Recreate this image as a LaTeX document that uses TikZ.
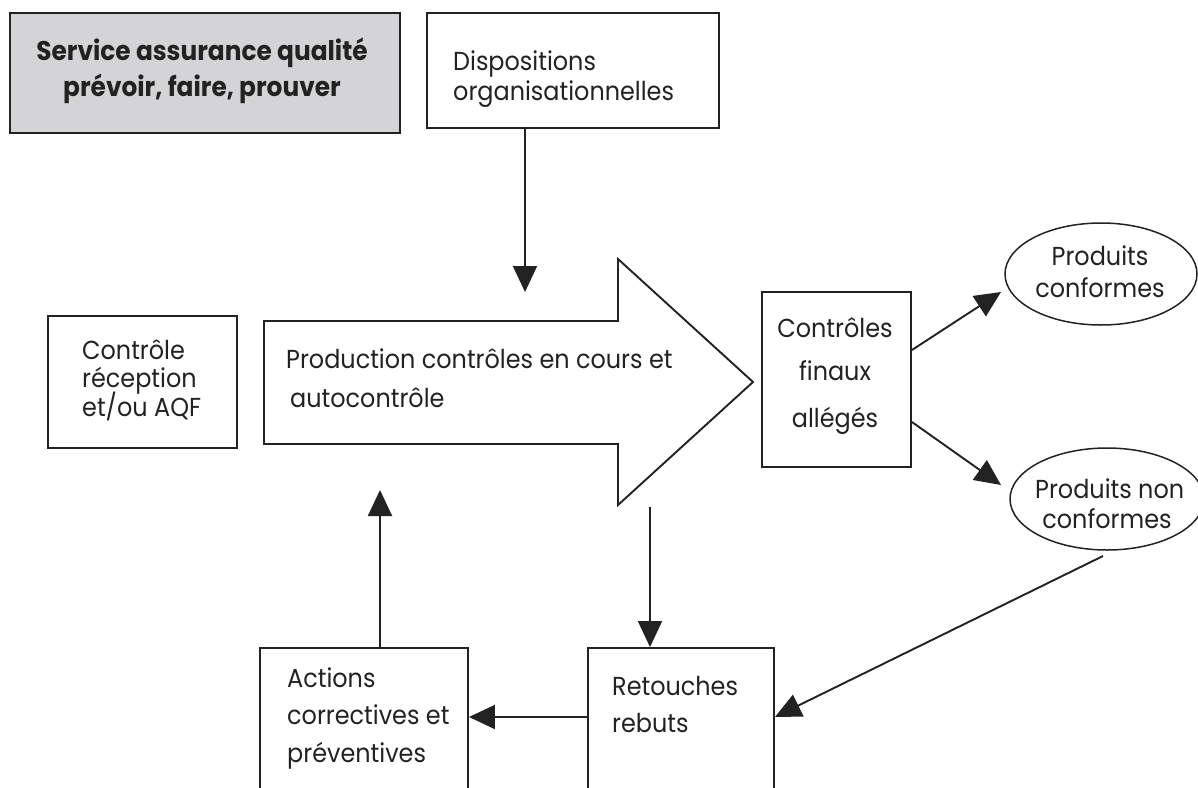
\documentclass[tikz,border=0pt]{standalone}
\usepackage{fontspec}
\setmainfont{Poppins}[FakeStretch=0.92]
\usetikzlibrary{arrows.meta,shapes.geometric}
\definecolor{ink}{HTML}{222222}
\definecolor{boxgray}{HTML}{D4D4D6}
\begin{document}
\begin{tikzpicture}[x=1pt,y=-1pt,
  box/.style={draw=ink, line width=1.9pt, rectangle, inner sep=0pt},
  oval/.style={draw=ink, line width=1.5pt, ellipse, inner sep=0pt},
  txt/.style={text=ink, inner sep=0pt, font=\fontsize{26}{30}\selectfont},
  ttl/.style={txt, font=\fontsize{27}{30}\selectfont\bfseries},
  arr/.style={draw=ink, line width=1.9pt, -{Triangle[length=26pt,width=24pt]}}]
\useasboundingbox (0,0) rectangle (1198,787);
\clip (0,0) rectangle (1198,787);

% boxes
\node[box, fill=boxgray, minimum width=390pt, minimum height=120pt] (sq) at (205,73) {};
\node[box, minimum width=292pt, minimum height=115pt] (disp) at (573,70.5) {};
\node[box, minimum width=189pt, minimum height=132pt] (rec) at (142.5,382) {};
\node[box, minimum width=149pt, minimum height=175pt] (cf) at (836.5,379.5) {};
\node[oval, minimum width=192pt, minimum height=102pt] (pc) at (1101,274) {};
\node[oval, minimum width=194pt, minimum height=102pt] (pnc) at (1107,499) {};
\node[box, minimum width=208pt, minimum height=160pt] (act) at (364,728) {};
\node[box, minimum width=186pt, minimum height=160pt] (ret) at (681,728) {};

% big arrow
\draw[ink, line width=1.9pt, line join=miter]
  (264,321) -- (618,321) -- (618,259) -- (753,382) -- (618,505) -- (618,444) -- (264,444) -- cycle;

% texts
\node[ttl, anchor=base] (sqt1) at (202,60) {Service assurance qualité};
\node[ttl, anchor=base] (sqt2) at (202,96) {prévoir, faire, prouver};
\node[txt, anchor=base west] (d1) at (453,70) {Dispositions};
\node[txt, anchor=base west] (d2) at (453,100) {organisationnelles};
\node[txt, anchor=base west] (r1) at (82,359) {Contrôle};
\node[txt, anchor=base west] (r2) at (82,387) {réception};
\node[txt, anchor=base west] (r3) at (82,416) {et/ou AQF};
\node[txt, anchor=base west] (p1) at (286,368) {Production contrôles en cours et};
\node[txt, anchor=base west] (p2) at (290,407) {autocontrôle};
\node[txt, anchor=base] (c1) at (835,337) {Contrôles};
\node[txt, anchor=base] (c2) at (835,380) {finaux};
\node[txt, anchor=base] (c3) at (835,427) {allégés};
\node[txt, anchor=base] (o1) at (1100,265) {Produits};
\node[txt, anchor=base] (o2) at (1100,297) {conformes};
\node[txt, anchor=base west] (n1) at (1035,498) {Produits non};
\node[txt, anchor=base] (n2) at (1107,528) {conformes};
\node[txt, anchor=base west] (a1) at (287,687) {Actions};
\node[txt, anchor=base west] (a2) at (287,724) {correctives et};
\node[txt, anchor=base west] (a3) at (287,762) {préventives};
\node[txt, anchor=base west] (e1) at (612,695) {Retouches};
\node[txt, anchor=base west] (e2) at (612,732) {rebuts};

% connector end points
\coordinate (k1) at (525,292);
\coordinate (s1) at (911,350);
\coordinate (t1) at (1001,292);
\coordinate (s2) at (911,422);
\coordinate (t2) at (1001,485);
\coordinate (s3) at (1103,556);
\coordinate (s4) at (650,507);
\coordinate (t5) at (380,490);
\coordinate (y5) at (0,717);

% connectors
\draw[arr] (disp.south -| k1) -- (k1);
\draw[arr] (cf.east |- s1) -- (t1);
\draw[arr] (cf.east |- s2) -- (t2);
\draw[arr] (s3) -- (ret.east |- y5);
\draw[arr] (s4) -- (ret.north -| s4);
\draw[arr] (ret.west |- y5) -- (act.east |- y5);
\draw[arr] (act.north -| t5) -- (t5);
\end{tikzpicture}
\end{document}
